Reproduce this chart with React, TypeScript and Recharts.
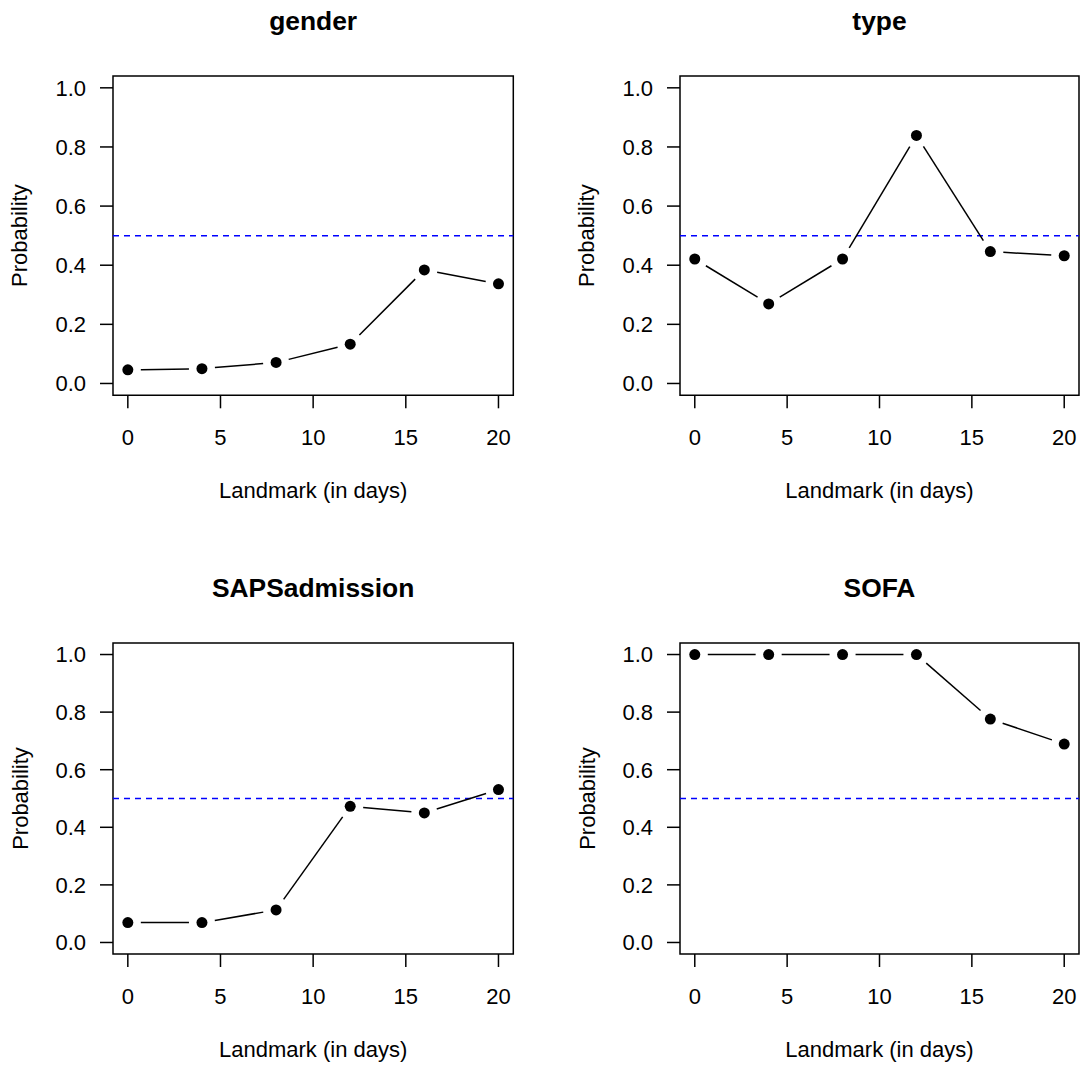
import React from 'react'
import {
  ScatterChart,
  Scatter,
  XAxis,
  YAxis,
  ReferenceLine,
  ReferenceArea,
} from 'recharts'

// landmark times (days) and estimated probabilities per variable
const landmarks = [0, 4, 8, 12, 16, 20]
const genderProb = [0.046, 0.05, 0.071, 0.133, 0.384, 0.337]
const typeProb = [0.421, 0.269, 0.421, 0.839, 0.446, 0.432]
const sapsProb = [0.069, 0.069, 0.113, 0.473, 0.45, 0.531]
const sofaProb = [1.0, 1.0, 1.0, 1.0, 0.776, 0.689]
const panelTitles = ['gender', 'type', 'SAPSadmission', 'SOFA']
const xTicks = [0, 5, 10, 15, 20]
const yTicks = [0, 0.2, 0.4, 0.6, 0.8, 1.0]
const threshold = 0.5
const xLabel = 'Landmark (in days)'
const yLabel = 'Probability'

const FONT = '"Liberation Sans", Arial, Helvetica, sans-serif'
const YW = 112
const MT = 76
const MR = 6
const XH = 60
const MB = 80
const GAP = 13

// R type="b": segments stop short of each point
function GapLine(props: any) {
  const pts: { x: number; y: number }[] = props.points || []
  const segs = []
  for (let i = 0; i < pts.length - 1; i++) {
    const a = pts[i]
    const b = pts[i + 1]
    const dx = b.x - a.x
    const dy = b.y - a.y
    const len = Math.sqrt(dx * dx + dy * dy)
    if (len <= 2 * GAP) continue
    const ux = dx / len
    const uy = dy / len
    segs.push(
      <line
        key={i}
        x1={a.x + ux * GAP}
        y1={a.y + uy * GAP}
        x2={b.x - ux * GAP}
        y2={b.y - uy * GAP}
        stroke="#000"
        strokeWidth={1.5}
      />
    )
  }
  return <g>{segs}</g>
}

const Dot = (props: any) => <circle cx={props.cx} cy={props.cy} r={5.5} fill="#000" />

interface PanelProps {
  title: string
  values: number[]
  box: { l: number; r: number; t: number; b: number }
}

function Panel({ title, values, box }: PanelProps) {
  const pw = box.r - box.l
  const ph = box.b - box.t
  const width = YW + pw + MR
  const height = MT + ph + XH + MB
  const data = landmarks.map((x, i) => ({ x, y: values[i] }))
  const tickStyle = { fill: '#000', fontSize: 22, fontFamily: FONT }
  const tl = { stroke: '#000', strokeWidth: 1.5 }

  return (
    <div style={{ position: 'absolute', left: box.l - YW, top: box.t - MT, width, height }}>
      <ScatterChart width={width} height={height} margin={{ top: MT, right: MR, bottom: MB, left: 0 }}>
        <XAxis
          type="number"
          dataKey="x"
          domain={[-0.8, 20.8]}
          ticks={xTicks}
          axisLine={false}
          tickLine={tl}
          tickSize={13}
          tickMargin={21}
          tick={tickStyle}
          height={XH}
          interval={0}
        />
        <YAxis
          type="number"
          dataKey="y"
          domain={[-0.04, 1.04]}
          ticks={yTicks}
          axisLine={false}
          tickLine={tl}
          tickSize={13}
          tickMargin={14}
          tick={tickStyle}
          tickFormatter={(v: number) => v.toFixed(1)}
          width={YW}
          interval={0}
        />
        <ReferenceLine y={threshold} stroke="#0000FF" strokeWidth={1.5} strokeDasharray="6 5" />
        <Scatter
          data={data}
          dataKey="y"
          fill="#000"
          line={GapLine}
          shape={Dot}
          isAnimationActive={false}
        />
        <ReferenceArea
          x1={-0.8}
          x2={20.8}
          y1={-0.04}
          y2={1.04}
          fill="none"
          fillOpacity={0}
          stroke="#000"
          strokeWidth={1.5}
        />
      </ScatterChart>
      <svg
        width={width}
        height={height}
        style={{ position: 'absolute', left: 0, top: 0, pointerEvents: 'none' }}
        fontFamily={FONT}
      >
        <text x={YW + pw / 2} y={MT - 46.5} textAnchor="middle" fontSize={26.4} fontWeight="bold" fill="#000">
          {title}
        </text>
        <text x={YW + pw / 2} y={MT + ph + 103} textAnchor="middle" fontSize={22} fill="#000">
          {xLabel}
        </text>
        <text
          x={YW - 85.5}
          y={MT + ph / 2}
          textAnchor="middle"
          fontSize={22}
          fill="#000"
          transform={`rotate(-90 ${YW - 85.5} ${MT + ph / 2})`}
        >
          {yLabel}
        </text>
      </svg>
    </div>
  )
}

const boxes = [
  { l: 112.7, r: 513, t: 75.7, b: 395 },
  { l: 680, r: 1079, t: 75.7, b: 395 },
  { l: 112.7, r: 513, t: 642.5, b: 953.5 },
  { l: 680, r: 1079, t: 642.5, b: 953.5 },
]
const series = [genderProb, typeProb, sapsProb, sofaProb]

export default function App() {
  return (
    <div style={{ position: 'absolute', left: 0, top: 0, width: 1085, height: 1075, background: '#fff', overflow: 'hidden' }}>
      {series.map((vals, i) => (
        <Panel key={panelTitles[i]} title={panelTitles[i]} values={vals} box={boxes[i]} />
      ))}
    </div>
  )
}
